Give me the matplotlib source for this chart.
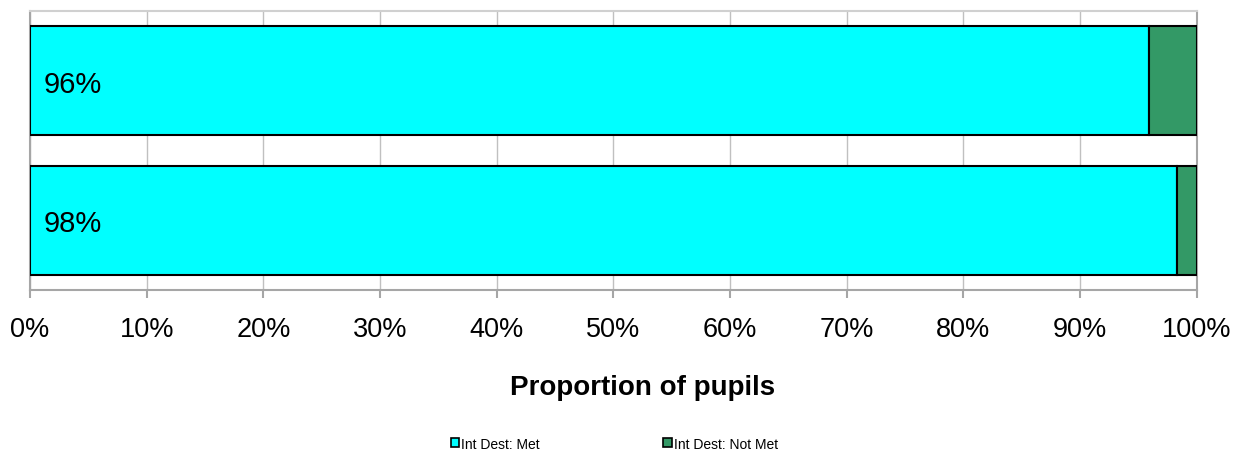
#!/usr/bin/env python3

import matplotlib

matplotlib.use("Agg")

import matplotlib.pyplot as plt
import numpy as np
from matplotlib.patches import Patch


# Bottom row first, top row last
categories = ["Group B", "Group A"]
met_values = [98.3, 95.9]
not_met_values = [1.7, 4.1]
bar_labels = ["98%", "96%"]
tick_values = list(range(0, 101, 10))
tick_labels = [f"{v}%" for v in tick_values]
series_names = ["Int Dest: Met", "Int Dest: Not Met"]

MET_COLOUR = "#00FFFF"
NOT_MET_COLOUR = "#339966"
GRID_COLOUR = "#C0C0C0"
AXIS_COLOUR = "#A6A6A6"

plt.rcParams["font.family"] = ["Liberation Sans", "DejaVu Sans"]

fig = plt.figure(figsize=(12.36, 4.52), dpi=100)
ax = fig.add_axes([0.0243, 0.356, 0.944, 0.6175])

y = np.arange(len(categories))

ax.barh(
    y, met_values, height=0.78, color=MET_COLOUR,
    edgecolor="black", linewidth=1.5, zorder=3
)
ax.barh(
    y, not_met_values, left=met_values, height=0.78,
    color=NOT_MET_COLOUR, edgecolor="black", linewidth=1.5, zorder=3
)

for pos, label in zip(y, bar_labels):
    ax.text(1.2, pos - 0.02, label, va="center", ha="left", fontsize=21, zorder=4)

ax.set_xlim(0, 100)
ax.set_ylim(-0.5, 1.5)
ax.set_yticks([])
ax.set_xticks(tick_values)
ax.set_xticklabels(tick_labels, fontsize=19.5)
ax.tick_params(axis="x", length=6, color=AXIS_COLOUR, width=1.5, pad=13)

ax.grid(axis="x", color=GRID_COLOUR, linewidth=1, zorder=0)
for side in ["left", "right", "top", "bottom"]:
    ax.spines[side].set_color(AXIS_COLOUR)
    ax.spines[side].set_linewidth(1.5)
ax.spines["top"].set_color("#D0D0D0")

ax.set_xlabel("Proportion of pupils", fontsize=20, fontweight="bold")
ax.xaxis.set_label_coords(0.525, -0.30)

handles = [
    Patch(facecolor=MET_COLOUR, edgecolor="black", linewidth=1.2),
    Patch(facecolor=NOT_MET_COLOUR, edgecolor="black", linewidth=1.2),
]
fig.legend(
    handles, series_names, loc="lower center", ncol=2, frameon=False,
    fontsize=10, bbox_to_anchor=(0.497, -0.027), handlelength=0.6,
    handleheight=0.6, handletextpad=0.15, columnspacing=8.9
)

fig.savefig("out.png", dpi=100)
plt.close(fig)
